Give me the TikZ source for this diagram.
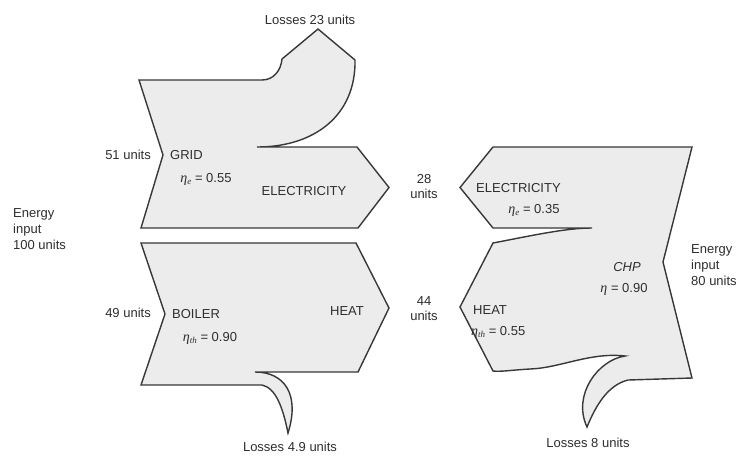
\documentclass[tikz,border=0pt]{standalone}
\usepackage{fontspec}
\setmainfont{Liberation Sans}
\newfontfamily\etaserif{Liberation Serif}
\newcommand{\myeta}[1]{{\etaserif\itshape\fontsize{14}{14}\selectfont η}\raisebox{-2.5pt}{\etaserif\itshape\fontsize{9}{9}\selectfont #1}}
\begin{document}
\begin{tikzpicture}[x=1pt,y=-1pt,
  flow/.style={fill=shapefill,draw=edgecol,line width=1.4pt,line join=miter},
  lbl/.style={inner sep=0pt,text=txtcol,font=\fontsize{13}{15}\selectfont},
  lblm/.style={lbl,align=left,font=\fontsize{13}{16}\selectfont}]
\definecolor{shapefill}{HTML}{ECECEC}
\definecolor{edgecol}{HTML}{383838}
\definecolor{txtcol}{HTML}{2E2E2E}
\useasboundingbox (0,0) rectangle (738,456);
\fill[white] (0,0) rectangle (738,456);
% GRID shape
\path[flow] (139,80) -- (262,80) .. controls (274,80) and (281,70) .. (282,59)
  -- (318,29) -- (355,60) .. controls (356,115) and (315,147) .. (257,147)
  -- (357,147) -- (389,187.5) -- (358,228) -- (141,228) -- (163,155) -- cycle;
% BOILER shape
\path[flow] (141,243) -- (356,243) -- (389,308) -- (358,372) -- (255,372)
  .. controls (285,372) and (300,395) .. (288,433)
  .. controls (283,408) and (276,388) .. (262,385)
  -- (141,385) -- (165,314) -- cycle;
% CHP shape
\path[flow] (493,147) -- (692,147) -- (663,262) -- (692,378) -- (628,380)
  .. controls (608,385) and (596,405) .. (587,427)
  .. controls (572,395) and (598,360) .. (625,356)
  .. controls (590,352) and (560,368) .. (530,369)
  .. controls (512,370) and (500,372) .. (493,371)
  -- (460,307) -- (493,243)
  .. controls (530,236) and (565,228) .. (592,228)
  -- (493,228) -- (460,187.5) -- cycle;
% labels
\node[lbl] (l23) at (310,20) {Losses 23 units};
\node[lbl,anchor=east] (u51) at (151,155) {51 units};
\node[lbl,anchor=west] (grid) at (170,155) {GRID};
\node[lbl] (ee) at (206,179) {\myeta{e} = 0.55};
\node[lbl] (el1) at (304,191) {ELECTRICITY};
\node[lblm,anchor=west] (ein1) at (13,229) {Energy\\input\\100 units};
\node[lbl,align=center] (u28) at (424,187) {28\\units};
\node[lbl,align=center] (u44) at (424,309) {44\\units};
\node[lbl,anchor=east] (u49) at (151,313) {49 units};
\node[lbl,anchor=west] (boiler) at (172,314) {BOILER};
\node[lbl] (eth) at (210,338) {\myeta{th} = 0.90};
\node[lbl] (heat1) at (347,311) {HEAT};
\node[lbl] (l49) at (290,447) {Losses 4.9 units};
\node[lbl,anchor=west] (el2) at (476,188) {ELECTRICITY};
\node[lbl] (ee2) at (534,210) {\myeta{e} = 0.35};
\node[lbl,anchor=west] (heat2) at (473,310) {HEAT};
\node[lbl,anchor=west] (eth2) at (471,332) {\myeta{th} = 0.55};
\node[lbl] (chp) at (627,267) {\itshape CHP};
\node[lbl] (eta) at (624,289) {{\etaserif\itshape\fontsize{14}{14}\selectfont η} = 0.90};
\node[lblm,anchor=west] (ein2) at (691,265) {Energy\\input\\80 units};
\node[lbl] (l8) at (588,443) {Losses 8 units};
\end{tikzpicture}
\end{document}
